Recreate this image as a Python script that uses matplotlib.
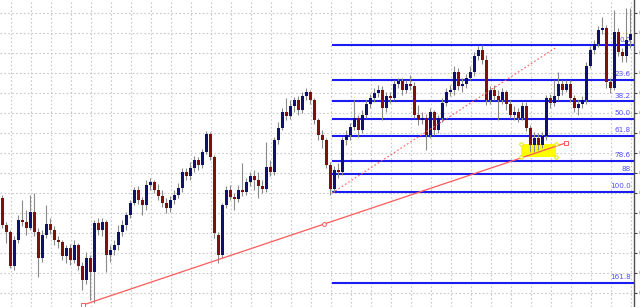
import matplotlib
matplotlib.use("Agg")
import matplotlib.pyplot as plt
import numpy as np

# ---------------- data ----------------
opens = [0.9095, 0.9068, 0.9061, 0.9027, 0.9053, 0.9073, 0.9071, 0.9065, 0.9081, 0.9061,
 0.9035, 0.9058, 0.9069, 0.9063, 0.9053, 0.9051, 0.9037, 0.9045, 0.9033, 0.9048,
 0.9027, 0.9013, 0.9035, 0.9021, 0.9070, 0.9063, 0.9071, 0.9038, 0.9043, 0.9048,
 0.9061, 0.9068, 0.9078, 0.9090, 0.9103, 0.9093, 0.9088, 0.9108, 0.9111, 0.9103,
 0.9097, 0.9090, 0.9085, 0.9093, 0.9098, 0.9105, 0.9121, 0.9117, 0.9125, 0.9133,
 0.9128, 0.9141, 0.9159, 0.9136, 0.9058, 0.9038, 0.9088, 0.9103, 0.9096, 0.9094,
 0.9103, 0.9101, 0.9111, 0.9117, 0.9113, 0.9107, 0.9104, 0.9126, 0.9121, 0.9153,
 0.9165, 0.9181, 0.9177, 0.9187, 0.9193, 0.9183, 0.9197, 0.9201, 0.9193, 0.9173,
 0.9158, 0.9153, 0.9128, 0.9104, 0.9123, 0.9121, 0.9153, 0.9158, 0.9166, 0.9175,
 0.9163, 0.9178, 0.9189, 0.9195, 0.9200, 0.9203, 0.9185, 0.9197, 0.9195, 0.9209,
 0.9212, 0.9203, 0.9209, 0.9207, 0.9178, 0.9173, 0.9175, 0.9158, 0.9181, 0.9163,
 0.9175, 0.9190, 0.9201, 0.9203, 0.9221, 0.9207, 0.9209, 0.9215, 0.9221, 0.9237,
 0.9243, 0.9233, 0.9193, 0.9203, 0.9197, 0.9193, 0.9201, 0.9189, 0.9178, 0.9181,
 0.9175, 0.9187, 0.9165, 0.9148, 0.9155, 0.9148, 0.9157, 0.9195, 0.9190, 0.9197,
 0.9209, 0.9203, 0.9209, 0.9195, 0.9185, 0.9189, 0.9193, 0.9227, 0.9243, 0.9249,
 0.9263, 0.9265, 0.9211, 0.9205, 0.9261, 0.9241, 0.9237, 0.9253]

highs = [0.9098, 0.9071, 0.9063, 0.9057, 0.9078, 0.9093, 0.9083, 0.9098, 0.9100, 0.9065,
 0.9063, 0.9088, 0.9075, 0.9067, 0.9057, 0.9053, 0.9048, 0.9049, 0.9053, 0.9050,
 0.9031, 0.9041, 0.9038, 0.9073, 0.9075, 0.9075, 0.9073, 0.9048, 0.9053, 0.9068,
 0.9073, 0.9081, 0.9093, 0.9106, 0.9107, 0.9096, 0.9113, 0.9115, 0.9113, 0.9109,
 0.9103, 0.9095, 0.9097, 0.9103, 0.9110, 0.9125, 0.9125, 0.9131, 0.9137, 0.9136,
 0.9144, 0.9162, 0.9161, 0.9138, 0.9061, 0.9090, 0.9107, 0.9108, 0.9100, 0.9108,
 0.9130, 0.9115, 0.9121, 0.9123, 0.9121, 0.9113, 0.9151, 0.9133, 0.9156, 0.9171,
 0.9185, 0.9195, 0.9193, 0.9196, 0.9197, 0.9201, 0.9205, 0.9203, 0.9195, 0.9175,
 0.9163, 0.9155, 0.9131, 0.9127, 0.9130, 0.9156, 0.9163, 0.9170, 0.9193, 0.9178,
 0.9183, 0.9193, 0.9199, 0.9205, 0.9208, 0.9207, 0.9201, 0.9201, 0.9213, 0.9215,
 0.9215, 0.9213, 0.9218, 0.9211, 0.9188, 0.9181, 0.9179, 0.9185, 0.9183, 0.9178,
 0.9195, 0.9205, 0.9208, 0.9227, 0.9225, 0.9215, 0.9219, 0.9227, 0.9241, 0.9247,
 0.9248, 0.9238, 0.9207, 0.9208, 0.9203, 0.9205, 0.9203, 0.9193, 0.9187, 0.9185,
 0.9191, 0.9191, 0.9168, 0.9161, 0.9160, 0.9161, 0.9198, 0.9199, 0.9213, 0.9221,
 0.9213, 0.9213, 0.9213, 0.9198, 0.9193, 0.9197, 0.9231, 0.9247, 0.9253, 0.9267,
 0.9276, 0.9268, 0.9215, 0.9283, 0.9265, 0.9245, 0.9285, 0.9285]

lows = [0.9065, 0.9050, 0.9025, 0.9023, 0.9050, 0.9067, 0.9058, 0.9063, 0.9057, 0.9016,
 0.9031, 0.9055, 0.9059, 0.9048, 0.9045, 0.9033, 0.9030, 0.9028, 0.9030, 0.9023,
 0.9003, 0.9009, 0.8993, 0.8990, 0.9058, 0.9057, 0.9021, 0.9031, 0.9038, 0.9043,
 0.9057, 0.9063, 0.9075, 0.9088, 0.9089, 0.9078, 0.9083, 0.9103, 0.9100, 0.9093,
 0.9086, 0.9080, 0.9081, 0.9089, 0.9095, 0.9101, 0.9113, 0.9113, 0.9121, 0.9123,
 0.9125, 0.9139, 0.9133, 0.9055, 0.9030, 0.9035, 0.9085, 0.9093, 0.9083, 0.9091,
 0.9097, 0.9098, 0.9107, 0.9103, 0.9095, 0.9100, 0.9101, 0.9117, 0.9118, 0.9149,
 0.9163, 0.9173, 0.9174, 0.9181, 0.9178, 0.9180, 0.9193, 0.9189, 0.9169, 0.9153,
 0.9145, 0.9125, 0.9098, 0.9101, 0.9115, 0.9118, 0.9148, 0.9153, 0.9163, 0.9156,
 0.9160, 0.9175, 0.9185, 0.9191, 0.9196, 0.9173, 0.9181, 0.9190, 0.9193, 0.9205,
 0.9198, 0.9200, 0.9203, 0.9175, 0.9168, 0.9169, 0.9143, 0.9155, 0.9158, 0.9160,
 0.9171, 0.9187, 0.9197, 0.9198, 0.9203, 0.9201, 0.9205, 0.9213, 0.9217, 0.9233,
 0.9229, 0.9188, 0.9189, 0.9193, 0.9173, 0.9189, 0.9183, 0.9175, 0.9173, 0.9171,
 0.9173, 0.9162, 0.9141, 0.9141, 0.9143, 0.9145, 0.9153, 0.9185, 0.9187, 0.9193,
 0.9198, 0.9201, 0.9191, 0.9181, 0.9178, 0.9185, 0.9189, 0.9225, 0.9239, 0.9246,
 0.9259, 0.9205, 0.9200, 0.9203, 0.9237, 0.9231, 0.9231, 0.9245]

closes = [0.9068, 0.9061, 0.9027, 0.9053, 0.9073, 0.9071, 0.9065, 0.9081, 0.9061, 0.9035,
 0.9058, 0.9069, 0.9063, 0.9053, 0.9051, 0.9037, 0.9045, 0.9033, 0.9048, 0.9027,
 0.9013, 0.9035, 0.9021, 0.9070, 0.9063, 0.9071, 0.9038, 0.9043, 0.9048, 0.9061,
 0.9068, 0.9078, 0.9090, 0.9103, 0.9093, 0.9088, 0.9108, 0.9111, 0.9103, 0.9097,
 0.9090, 0.9085, 0.9093, 0.9098, 0.9105, 0.9121, 0.9117, 0.9125, 0.9133, 0.9128,
 0.9141, 0.9159, 0.9136, 0.9060, 0.9038, 0.9088, 0.9103, 0.9096, 0.9094, 0.9103,
 0.9101, 0.9111, 0.9117, 0.9113, 0.9107, 0.9104, 0.9126, 0.9121, 0.9153, 0.9165,
 0.9181, 0.9177, 0.9187, 0.9193, 0.9183, 0.9197, 0.9201, 0.9193, 0.9173, 0.9158,
 0.9153, 0.9128, 0.9104, 0.9123, 0.9121, 0.9153, 0.9158, 0.9166, 0.9175, 0.9163,
 0.9178, 0.9189, 0.9195, 0.9200, 0.9203, 0.9185, 0.9197, 0.9195, 0.9209, 0.9212,
 0.9203, 0.9209, 0.9207, 0.9178, 0.9173, 0.9175, 0.9158, 0.9181, 0.9163, 0.9175,
 0.9190, 0.9201, 0.9203, 0.9221, 0.9207, 0.9209, 0.9215, 0.9221, 0.9237, 0.9243,
 0.9233, 0.9193, 0.9203, 0.9197, 0.9193, 0.9201, 0.9189, 0.9178, 0.9181, 0.9175,
 0.9187, 0.9165, 0.9148, 0.9155, 0.9148, 0.9157, 0.9195, 0.9190, 0.9197, 0.9209,
 0.9203, 0.9209, 0.9195, 0.9185, 0.9189, 0.9193, 0.9227, 0.9243, 0.9249, 0.9263,
 0.9265, 0.9211, 0.9205, 0.9261, 0.9241, 0.9237, 0.9253, 0.9259]

# Fibonacci retracement
fib_start_bar = 82.5
fib_high = 0.9248
fib_low = 0.9101
fib_levels = [0.0, 23.6, 38.2, 50.0, 61.8, 78.6, 88.0, 100.0, 161.8]
fib_labels = ["0.0", "23.6", "38.2", "50.0", "61.8", "78.6", "88", "100.0", "161.8"]

# trend line (solid) and channel helper (dotted)
trend_bars = [20.25, 140.9]
trend_prices = [0.8988, 0.9150]
dotted_bars = [82.5, 138.7]
dotted_prices = [0.9100, 0.9246]

# highlighted zone
zone_bars = [129.75, 138.5]
zone_prices = [0.9136, 0.9149]

# price axis ticks
price_ticks = [0.9000, 0.9020, 0.9040, 0.9060, 0.9080, 0.9100, 0.9120, 0.9140,
               0.9160, 0.9180, 0.9200, 0.9220, 0.9240, 0.9260, 0.9280]

# ---------------- drawing ----------------
W, H = 640, 307
fig = plt.figure(figsize=(W / 100, H / 100), dpi=100)
ax = fig.add_axes([0, 0, 634 / W, 1])
ax.set_facecolor("white")

n = len(closes)
idx = np.arange(n)
o = np.array(opens); c = np.array(closes); h = np.array(highs); l = np.array(lows)

ax.set_xlim(-0.5, 158)
ax.set_ylim(0.8986, 0.9293)

# grid
for p in price_ticks:
    ax.axhline(p, color="#c8c8c8", lw=0.8, ls=(0, (1.5, 2)), zorder=0)
for gx in np.arange(2.2, 158, 5):
    ax.axvline(gx, color="#c8c8c8", lw=0.8, ls=(0, (1.5, 2)), zorder=0)

# zone rectangle
ax.fill_between(zone_bars, zone_prices[0], zone_prices[1], color="#ffff00", zorder=1, lw=0)
for zx in zone_bars:
    for zy in zone_prices:
        ax.plot(zx, zy, marker="o", ms=2.5, mfc="white", mec="#e6e600", mew=0.7, zorder=6)

# fib levels
rng = fib_high - fib_low
for lev, lab in zip(fib_levels, fib_labels):
    py = fib_high - lev / 100 * rng
    ax.plot([fib_start_bar, 158], [py, py], color="#1c1cf0", lw=1.5, zorder=2,
            solid_capstyle="butt")
    ax.text(157.2, py + 0.00025, lab, color="#5050ff", fontsize=5.2, ha="right",
            va="bottom", zorder=2)

# wicks
ax.vlines(idx, l, h, color="#8a8a8a", lw=0.8, zorder=3)
# bodies
bull = c >= o
body_lo = np.minimum(o, c)
body_h = np.maximum(np.abs(c - o), 0.00008)
ax.bar(idx[bull], body_h[bull], bottom=body_lo[bull], width=0.75, color="#101070",
       lw=0, zorder=4)
ax.bar(idx[~bull], body_h[~bull], bottom=body_lo[~bull], width=0.75, color="#801010",
       lw=0, zorder=4)

# trend lines
ax.plot(trend_bars, trend_prices, color="#ff5a5a", lw=0.9, zorder=5)
ax.plot(trend_bars, trend_prices, ls="none", marker="s", ms=2.5, mfc="white",
        mec="#ff5a5a", mew=0.7, zorder=6)
ax.plot(np.mean(trend_bars), np.mean(trend_prices), marker="o", ms=2.8, mfc="white",
        mec="#ff5a5a", mew=0.7, zorder=6)
ax.plot(dotted_bars, dotted_prices, color="#ff5a5a", lw=0.8, ls=(0, (1.5, 2)), zorder=5)

# axes frame
for s in ["left", "top", "bottom"]:
    ax.spines[s].set_visible(False)
ax.spines["right"].set_color("#505050")
ax.spines["right"].set_linewidth(1.0)
ax.set_xticks([])
ax.set_yticks(price_ticks)
ax.set_yticklabels([f"{p:.4f}" for p in price_ticks])
ax.yaxis.tick_right()
ax.tick_params(axis="y", direction="out", length=2, width=0.8, pad=1, labelsize=6.5,
               colors="#404040")

fig.savefig("out.png", dpi=100)
